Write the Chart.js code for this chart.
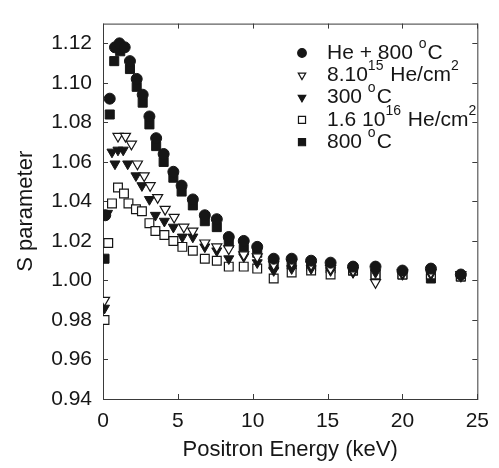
<!DOCTYPE html>
<html>
<head>
<meta charset="utf-8">
<script src="https://cdn.jsdelivr.net/npm/chart.js@4.4.1/dist/chart.umd.min.js"></script>
<style>
html, body { margin: 0; padding: 0; background: #fff; }
#wrap { width: 499px; height: 468px; }
</style>
</head>
<body>
<div id="wrap"><canvas id="myChart" width="499" height="468"></canvas></div>
<script>
// legend names, ^{...} marks a superscript
const seriesNames = ['He + 800 ^{o}C', '8.10^{15} He/cm^{2}', '300 ^{o}C', '1.6 10^{16} He/cm^{2}', '800 ^{o}C'];

const xTicks = [0, 5, 10, 15, 20, 25];
const yTicks = [0.94, 0.96, 0.98, 1.00, 1.02, 1.04, 1.06, 1.08, 1.10, 1.12];

// He + 800 C (filled circles)
const heX = [0.15, 0.45, 0.8, 1.1, 1.45, 1.8, 2.25, 2.65, 3.1, 3.55, 4.05, 4.7, 5.25, 6.0, 6.8, 7.6, 8.4, 9.4, 10.3, 11.4, 12.6, 13.9, 15.2, 16.7, 18.2, 20.0, 21.9, 23.9];
const heY = [1.033, 1.092, 1.118, 1.120, 1.118, 1.111, 1.102, 1.094, 1.083, 1.072, 1.064, 1.055, 1.048, 1.041, 1.033, 1.031, 1.022, 1.020, 1.017, 1.011, 1.011, 1.010, 1.009, 1.007, 1.007, 1.005, 1.006, 1.003];

// 8.10^15 He/cm2 (open triangles down)
const lowX = [0.1, 1.0, 1.5, 1.9, 2.3, 2.75, 3.15, 3.65, 4.15, 4.75, 5.4, 6.0, 6.8, 7.6, 8.4, 9.4, 10.3, 11.4, 12.6, 13.9, 15.2, 16.7, 18.2, 20.0, 21.9, 23.9];
const lowY = [0.990, 1.073, 1.073, 1.069, 1.059, 1.053, 1.048, 1.042, 1.036, 1.032, 1.027, 1.025, 1.019, 1.017, 1.016, 1.013, 1.012, 1.008, 1.009, 1.008, 1.006, 1.005, 0.999, 1.004, 1.004, 1.003];

// 300 C (filled triangles down)
const t300X = [0.1, 0.3, 0.6, 0.8, 1.0, 1.35, 1.65, 2.2, 2.6, 3.1, 3.5, 4.1, 4.7, 5.3, 6.0, 6.8, 7.6, 8.4, 9.4, 10.3, 11.4, 12.6, 13.9, 15.2, 16.7, 18.2, 20.0, 21.9, 23.9];
const t300Y = [0.986, 1.034, 1.065, 1.059, 1.066, 1.066, 1.059, 1.053, 1.048, 1.041, 1.033, 1.030, 1.027, 1.022, 1.022, 1.017, 1.015, 1.011, 1.012, 1.009, 1.005, 1.006, 1.006, 1.005, 1.004, 1.004, 1.003, 1.003, 1.002];

// 1.6 10^16 He/cm2 (open squares)
const highX = [0.1, 0.35, 0.6, 1.0, 1.4, 1.7, 2.2, 2.6, 3.1, 3.5, 4.1, 4.7, 5.3, 6.0, 6.8, 7.6, 8.4, 9.4, 10.3, 11.4, 12.6, 13.9, 15.2, 16.7, 18.2, 20.0, 21.9, 23.9];
const highY = [0.980, 1.019, 1.039, 1.047, 1.044, 1.039, 1.036, 1.035, 1.029, 1.025, 1.023, 1.020, 1.017, 1.015, 1.011, 1.010, 1.007, 1.007, 1.006, 1.001, 1.004, 1.005, 1.003, 1.005, 1.003, 1.003, 1.003, 1.002];

// 800 C (filled squares)
const a800X = [0.1, 0.45, 0.75, 1.15, 1.8, 2.25, 2.65, 3.1, 3.55, 4.05, 4.7, 5.25, 6.0, 6.8, 7.6, 8.4, 9.4, 10.3, 11.4, 12.6, 13.9, 15.2, 16.7, 18.2, 20.0, 21.9, 23.9];
const a800Y = [1.011, 1.084, 1.111, 1.116, 1.107, 1.098, 1.090, 1.079, 1.068, 1.060, 1.052, 1.045, 1.038, 1.030, 1.027, 1.019, 1.016, 1.014, 1.008, 1.008, 1.007, 1.006, 1.005, 1.003, 1.003, 1.001, 1.002];

const ink = '#161616';
const fontFamily = "'Liberation Sans', Arial, sans-serif";

function pts(xs, ys) {
    return xs.map((x, i) => ({ x: x, y: ys[i] }));
}

function marker(ctx, style, open, cx, cy, r) {
    ctx.beginPath();
    if (style === 'circle') {
        ctx.arc(cx, cy, r, 0, Math.PI * 2);
    } else if (style === 'rect') {
        const s = r * Math.SQRT1_2;
        ctx.rect(cx - s, cy - s, 2 * s, 2 * s);
    } else {
        // triangle pointing down
        ctx.moveTo(cx, cy + r);
        ctx.lineTo(cx - r * 0.866, cy - r * 0.5);
        ctx.lineTo(cx + r * 0.866, cy - r * 0.5);
        ctx.closePath();
    }
    ctx.fillStyle = open ? '#fff' : ink;
    ctx.fill();
    ctx.lineWidth = 1.2;
    ctx.strokeStyle = ink;
    ctx.stroke();
}

function richText(ctx, str, x, y) {
    const parts = str.split(/(\^\{[^}]*\})/).filter(p => p.length);
    parts.forEach(p => {
        const sup = p.startsWith('^{');
        const t = sup ? p.slice(2, -1) : p;
        ctx.font = (sup ? '14px ' : '21px ') + fontFamily;
        ctx.fillText(t, x, sup ? y - 9 : y);
        x += ctx.measureText(t).width + (sup ? 1 : 0);
    });
}

const frame = {
    id: 'frame',
    beforeDatasetsDraw(chart) {
        const { ctx, chartArea: a, scales: { x, y } } = chart;
        ctx.save();
        ctx.strokeStyle = '#3a3a3a';
        ctx.lineWidth = 1;
        ctx.strokeRect(a.left + 0.5, a.top + 0.5, a.right - a.left, a.bottom - a.top);
        ctx.beginPath();
        x.ticks.forEach(t => {
            const px = Math.round(x.getPixelForValue(t.value)) + 0.5;
            ctx.moveTo(px, a.bottom); ctx.lineTo(px, a.bottom - 5);
            ctx.moveTo(px, a.top); ctx.lineTo(px, a.top + 5);
        });
        y.ticks.forEach(t => {
            const py = Math.round(y.getPixelForValue(t.value)) + 0.5;
            ctx.moveTo(a.left, py); ctx.lineTo(a.left + 5, py);
            ctx.moveTo(a.right, py); ctx.lineTo(a.right - 5, py);
        });
        ctx.stroke();
        ctx.restore();
    }
};

const legendBox = {
    id: 'legendBox',
    afterDraw(chart) {
        const ctx = chart.ctx;
        ctx.save();
        ctx.textBaseline = 'middle';
        chart.data.datasets.forEach((ds, i) => {
            const cy = 53 + i * 22.3;
            marker(ctx, ds.pointStyle, ds.pointBackgroundColor === '#fff', 302, cy, ds.pointStyle === 'rect' ? 5 : 4.3);
            ctx.fillStyle = ink;
            richText(ctx, seriesNames[i], 327, cy);
        });
        ctx.restore();
    }
};

function set(i, xs, ys, style, open, r) {
    return {
        label: seriesNames[i].replace(/\^\{([^}]*)\}/g, '$1'),
        data: pts(xs, ys),
        showLine: false,
        pointStyle: style,
        pointRotation: style === 'triangle' ? 180 : 0,
        pointRadius: r,
        pointBackgroundColor: open ? '#fff' : ink,
        pointBorderColor: ink,
        pointBorderWidth: open ? 1.2 : 1
    };
}

const ctx = document.getElementById('myChart').getContext('2d');
const chart = new Chart(ctx, {
    type: 'scatter',
    data: {
        datasets: [
            set(0, heX, heY, 'circle', false, 5.5),
            set(1, lowX, lowY, 'triangle', true, 5.8),
            set(2, t300X, t300Y, 'triangle', false, 5.8),
            set(3, highX, highY, 'rect', true, 6.2),
            set(4, a800X, a800Y, 'rect', false, 6.4)
        ]
    },
    options: {
        responsive: false,
        animation: false,
        layout: { padding: { top: 13, right: 14, left: 0, bottom: 0 } },
        plugins: {
            legend: { display: false },
            tooltip: { enabled: false }
        },
        scales: {
            x: {
                type: 'linear',
                min: 0,
                max: 25,
                afterBuildTicks: s => { s.ticks = xTicks.map(v => ({ value: v })); },
                afterFit: s => { s.height = 69; },
                grid: { display: false, drawTicks: false },
                border: { display: false },
                ticks: { color: ink, padding: 10, maxRotation: 0, font: { family: fontFamily, size: 21 } },
                title: { display: true, text: 'Positron Energy (keV)', color: ink, padding: { top: 4, bottom: 5 }, font: { family: fontFamily, size: 22 } }
            },
            y: {
                min: 0.94,
                max: 1.13,
                afterBuildTicks: s => { s.ticks = yTicks.map(v => ({ value: v })); },
                afterFit: s => { s.width = 103; },
                grid: { display: false, drawTicks: false },
                border: { display: false },
                ticks: { color: ink, padding: 11, font: { family: fontFamily, size: 21 }, callback: v => v.toFixed(2) },
                title: { display: true, text: 'S parameter', color: ink, padding: 13, font: { family: fontFamily, size: 22 } }
            }
        }
    },
    plugins: [frame, legendBox]
});
</script>
</body>
</html>
